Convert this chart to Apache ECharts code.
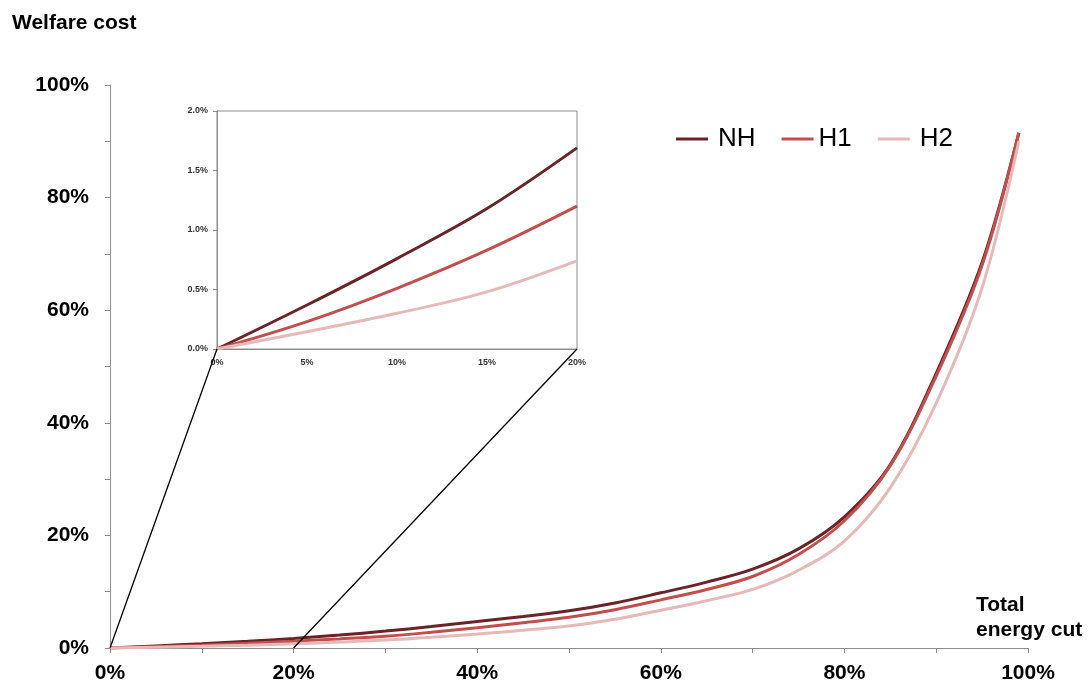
<!DOCTYPE html>
<html>
<head>
<meta charset="utf-8">
<script src="https://cdn.jsdelivr.net/npm/echarts@6/dist/echarts.min.js"></script>
<style>
html,body{margin:0;padding:0;background:#fff;}
#c{width:1088px;height:682px;}
</style>
</head>
<body>
<div id="c"></div>
<script>
// Total energy cut (%)
const energyCut = [0, 5, 10, 15, 20, 25, 30, 35, 40, 45, 50, 55, 60, 65, 70, 75, 80, 85, 90, 95, 99];
// Welfare cost (%)
const costNH = [0, 0.37, 0.76, 1.18, 1.69, 2.3, 3.0, 3.8, 4.7, 5.6, 6.6, 8.0, 9.8, 11.7, 14.0, 17.6, 23.3, 32.6, 48.8, 68.5, 91.5];
const costH1 = [0, 0.23, 0.51, 0.83, 1.20, 1.62, 2.1, 2.8, 3.6, 4.5, 5.45, 6.8, 8.55, 10.4, 12.7, 16.6, 22.6, 32.4, 48.3, 68.0, 91.5];
const costH2 = [0, 0.145, 0.30, 0.48, 0.74, 1.05, 1.4, 1.9, 2.5, 3.15, 3.9, 5.1, 6.7, 8.4, 10.4, 13.8, 19.0, 28.5, 43.5, 64.0, 90.0];
const seriesNames = ['NH', 'H1', 'H2'];
const insetMaxX = 20;
const insetMaxY = 2;
const zoomAnchors = [0, 20]; // x-values on main axis joined to the inset corners

const colors = ['#6a2428', '#c0504d', '#e6b9b8'];
const FONT = "'Liberation Sans', Arial, sans-serif";
const allData = [costNH, costH1, costH2];

const chart = echarts.init(document.getElementById('c'), null, {renderer: 'canvas'});

function makeSeries(k, axisIdx, filterFn) {
  return {
    name: seriesNames[k], type: 'line', xAxisIndex: axisIdx, yAxisIndex: axisIdx,
    data: energyCut.map((x, i) => [x, allData[k][i]]).filter(filterFn),
    smooth: 0.35, symbol: 'none', showSymbol: false,
    lineStyle: {color: colors[k], width: 3},
    itemStyle: {color: colors[k]},
    z: 3 + k
  };
}
const mainSeries = seriesNames.map((n, k) => makeSeries(k, 0, () => true));
const insetSeries = seriesNames.map((n, k) => makeSeries(k, 1, d => d[0] <= insetMaxX));

const axisGray = '#8c8c8c';

chart.setOption({
  animation: false,
  backgroundColor: '#fff',
  title: [
    {text: 'Welfare cost', left: 12, top: 13, padding: 0,
     textStyle: {fontFamily: FONT, fontWeight: 'bold', fontSize: 21, color: '#000'}},
    {text: 'Total\nenergy cut', left: 976, top: 593, padding: 0,
     textStyle: {fontFamily: FONT, fontWeight: 'bold', fontSize: 21, color: '#000', lineHeight: 25}}
  ],
  legend: {
    data: [
      {name: 'NH'},
      {name: 'H1', textStyle: {padding: [0, 0, 0, 0]}},
      {name: 'H2'}
    ],
    left: 676, top: 126, padding: 0,
    icon: 'rect', itemWidth: 32, itemHeight: 3, itemGap: 26,
    textStyle: {fontFamily: FONT, fontSize: 26, color: '#000', padding: [0, 0, 0, 5]}
  },
  grid: [
    {left: 110, top: 85, width: 918, height: 563, outerBoundsMode: 'none', containLabel: false},
    {left: 217, top: 111, width: 360, height: 238, show: true, backgroundColor: '#fff',
     borderColor: axisGray, borderWidth: 1, outerBoundsMode: 'none', containLabel: false}
  ],
  xAxis: [
    {type: 'value', gridIndex: 0, min: 0, max: 100, interval: 10,
     axisLine: {show: true, lineStyle: {color: axisGray, width: 1}},
     axisTick: {show: true, inside: false, length: 5, lineStyle: {color: axisGray}},
     splitLine: {show: false},
     axisLabel: {margin: 15, fontFamily: FONT, fontWeight: 'bold', fontSize: 21, color: '#000',
       formatter: v => (v % 20 === 0 ? v + '%' : '')}},
    {type: 'value', gridIndex: 1, min: 0, max: insetMaxX, interval: 5,
     axisLine: {show: true, lineStyle: {color: axisGray, width: 1}},
     axisTick: {show: false},
     splitLine: {show: false},
     axisLabel: {margin: 9, fontFamily: FONT, fontWeight: 'bold', fontSize: 9, color: '#333',
       formatter: v => v + '%'}}
  ],
  yAxis: [
    {type: 'value', gridIndex: 0, min: 0, max: 100, interval: 10,
     axisLine: {show: true, lineStyle: {color: axisGray, width: 1}},
     axisTick: {show: true, inside: false, length: 5, lineStyle: {color: axisGray}},
     splitLine: {show: false},
     axisLabel: {margin: 21, fontFamily: FONT, fontWeight: 'bold', fontSize: 21, color: '#000',
       formatter: v => (v % 20 === 0 ? v + '%' : '')}},
    {type: 'value', gridIndex: 1, min: 0, max: insetMaxY, interval: 0.5,
     axisLine: {show: true, lineStyle: {color: axisGray, width: 1}},
     axisTick: {show: true, inside: false, length: 4, lineStyle: {color: axisGray}},
     splitLine: {show: false},
     axisLabel: {margin: 9, fontFamily: FONT, fontWeight: 'bold', fontSize: 9, color: '#333',
       formatter: v => v.toFixed(1) + '%'}}
  ],
  series: mainSeries.concat(insetSeries)
});

// connector lines from the zoomed range on the main chart to the inset corners
const lines = zoomAnchors.map((xv, i) => {
  const a = chart.convertToPixel({gridIndex: 0}, [xv, 0]);
  const b = chart.convertToPixel({gridIndex: 1}, [i === 0 ? 0 : insetMaxX, 0]);
  return {type: 'line', z: 100, silent: true,
    shape: {x1: a[0], y1: a[1], x2: b[0], y2: b[1]},
    style: {stroke: '#000', lineWidth: 1.3}};
});
chart.setOption({graphic: lines});
</script>
</body>
</html>
